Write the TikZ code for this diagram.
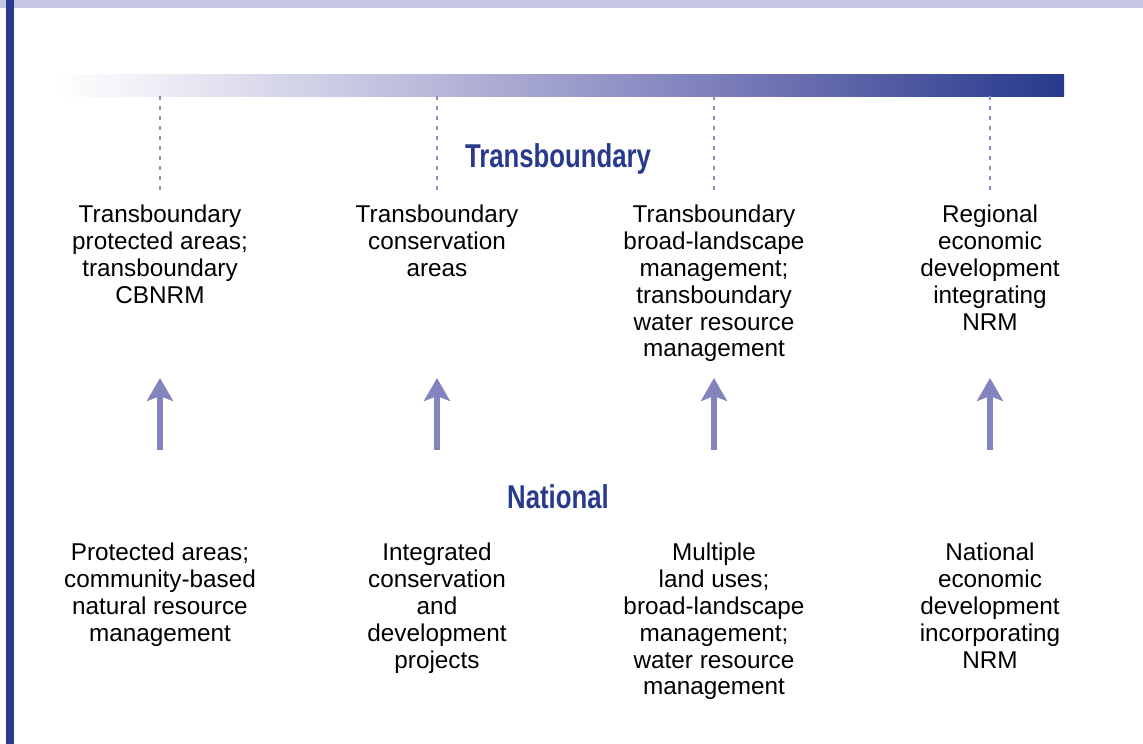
\documentclass[tikz,border=0pt]{standalone}
\usepackage{fontspec}
\setmainfont{Liberation Sans}
\newfontfamily\headfont{Liberation Sans}[FakeStretch=0.78]
\usetikzlibrary{arrows.meta}

\definecolor{navy}{HTML}{283A8C}
\definecolor{band}{HTML}{C6C6E3}
\definecolor{lilac}{HTML}{8383BE}
\definecolor{dotlilac}{HTML}{8C8CC6}
\pgfdeclarehorizontalshading{barshade}{100bp}{color(0bp)=(white); color(25bp)=(white); color(32bp)=(white!80!lilac); color(44bp)=(lilac!58!white); color(57.5bp)=(lilac!95!navy); color(71bp)=(navy!80!lilac); color(75bp)=(navy); color(100bp)=(navy)}

\tikzstyle{level} = [anchor=base, text=navy, font=\headfont\bfseries\fontsize{33}{38}\selectfont]
\tikzstyle{item} = [anchor=north, align=center, inner sep=0pt, text=black, font=\fontsize{24.3}{26.8}\selectfont]
\tikzstyle{guide} = [dotlilac, line width=2pt, dash pattern=on 3.5pt off 6.5pt]
\tikzstyle{edge} = [lilac, line width=6pt, -{Stealth[length=23pt, width=26pt, inset=5pt]}]

\begin{document}
\begin{tikzpicture}[x=1pt, y=-1pt]
\useasboundingbox (0,0) rectangle (1143,744);

% frame
\fill [band] (0,0) rectangle (1143,8);
\fill [navy] (6,0) rectangle (14,744);
\node (bar) [rectangle, inner sep=0pt, minimum width=1009pt, minimum height=22pt, shading=barshade] at (559.5,85) {};

\node (0) [level] at (558,167) {Transboundary};
\node (1) [item] at (160,205) {Transboundary\\protected areas;\\transboundary\\CBNRM};
\node (2) [item] at (437,205) {Transboundary\\conservation\\areas};
\node (3) [item] at (714,205) {Transboundary\\broad-landscape\\management;\\transboundary\\water resource\\management};
\node (4) [item] at (990,205) {Regional\\economic\\development\\integrating\\NRM};

\node (5) [level] at (558,508) {National};
\node (6) [item] at (160,543) {Protected areas;\\community-based\\natural resource\\management};
\node (7) [item] at (437,543) {Integrated\\conservation\\and\\development\\projects};
\node (8) [item] at (714,543) {Multiple\\land uses;\\broad-landscape\\management;\\water resource\\management};
\node (9) [item] at (990,543) {National\\economic\\development\\incorporating\\NRM};

\coordinate (a1) at (160,450); \coordinate (b1) at (160,378);
\coordinate (a2) at (437,450); \coordinate (b2) at (437,378);
\coordinate (a3) at (714,450); \coordinate (b3) at (714,378);
\coordinate (a4) at (990,450); \coordinate (b4) at (990,378);

\draw [guide] (bar.south -| 1) -- ([yshift=15pt]1.north);
\draw [guide] (bar.south -| 2) -- ([yshift=15pt]2.north);
\draw [guide] (bar.south -| 3) -- ([yshift=15pt]3.north);
\draw [guide] (bar.south -| 4) -- ([yshift=15pt]4.north);

\draw [edge] (a1) -- (b1);
\draw [edge] (a2) -- (b2);
\draw [edge] (a3) -- (b3);
\draw [edge] (a4) -- (b4);

\end{tikzpicture}
\end{document}
